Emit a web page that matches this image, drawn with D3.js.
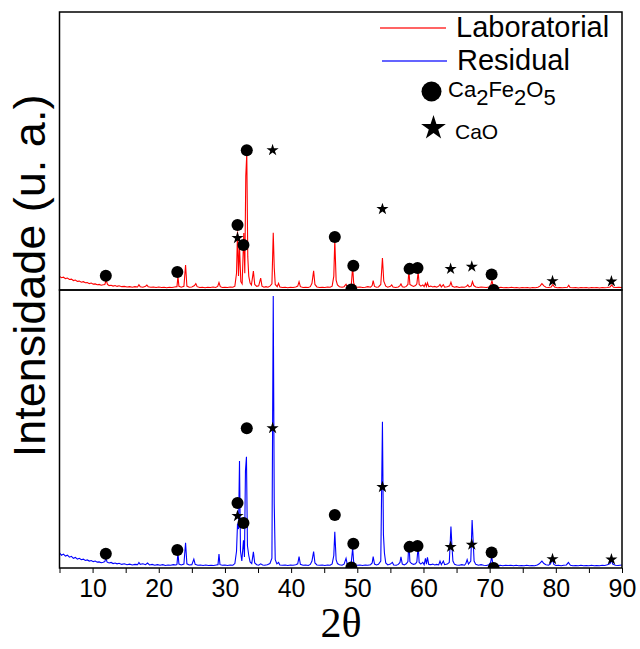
<!DOCTYPE html>
<html>
<head>
<meta charset="utf-8">
<script src="https://cdn.jsdelivr.net/npm/d3@7"></script>
<style>
  body { margin: 0; background: #fff; }
  svg { display: block; }
</style>
</head>
<body>
<svg width="640" height="649"></svg>
<script>
// XRD patterns, intensity in arbitrary units (0-100 = one panel height)
const laboratorial = [
  [5.0,4.9],[5.3,4.4],[5.6,4.6],[5.9,4.1],[6.2,4.3],[6.5,3.8],[6.8,3.9],[7.1,3.4],[7.4,3.6],[7.7,3.1],
  [8.0,3.2],[8.3,2.8],[8.6,3.0],[8.9,2.6],[9.2,2.7],[9.5,2.3],[9.8,2.5],[10.1,2.1],[10.4,2.2],[10.7,1.9],
  [11.0,2.0],[11.3,1.7],[11.6,1.9],[11.85,2.0],[12.05,3.6],[12.25,2.0],[12.5,1.6],[12.8,1.7],[13.1,1.4],
  [13.4,1.6],[13.7,1.3],[14.0,1.5],[14.4,1.2],[14.8,1.3],[15.2,1.1],[15.6,1.2],[16.0,1.0],[16.4,1.2],
  [16.8,1.1],[17.0,1.9],[17.2,1.2],[17.6,1.0],[18.0,1.3],[18.2,1.8],[18.4,1.2],[18.8,1.0],[19.2,1.1],
  [19.6,0.9],[20.0,1.1],[20.4,0.9],[20.8,1.0],[21.2,0.8],[21.6,1.0],[22.0,0.9],[22.4,1.1],[22.75,1.2],
  [22.9,4.8],[23.05,1.3],[23.4,1.0],[23.8,1.3],[24.05,9.0],[24.25,1.4],[24.6,1.0],[25.0,1.1],[25.4,1.6],
  [25.6,2.3],[25.8,1.2],[26.2,0.9],[26.6,1.0],[27.0,0.8],[27.4,1.0],[27.8,0.9],[28.2,1.1],[28.6,0.9],
  [28.9,1.3],[29.1,2.7],[29.3,1.2],[29.6,0.9],[30.0,1.0],[30.4,0.9],[30.8,1.1],[31.2,1.0],[31.5,1.4],
  [31.75,6],[31.9,21],[32.05,5],[32.2,16],[32.4,3],[32.6,2.2],[32.85,20.5],[33.0,6],[33.15,41],[33.3,49],
  [33.45,12],[33.6,5],[33.8,2.5],[34.0,1.8],[34.3,6.8],[34.5,2.0],[34.8,1.3],[35.1,1.5],[35.4,4.3],
  [35.6,1.4],[35.9,1.0],[36.2,1.2],[36.5,1.0],[36.8,1.4],[37.1,2.2],[37.3,20.6],[37.45,8],[37.6,2.0],
  [37.9,1.2],[38.1,2.4],[38.3,1.1],[38.7,0.9],[39.1,1.0],[39.5,0.8],[39.9,1.0],[40.3,0.9],[40.7,1.1],
  [41.0,1.4],[41.2,3.0],[41.4,1.2],[41.8,0.9],[42.2,1.0],[42.6,0.9],[42.9,1.2],[43.15,2.4],[43.4,6.9],
  [43.6,2.0],[43.9,1.1],[44.3,0.9],[44.7,1.0],[45.1,0.9],[45.5,1.1],[45.9,1.0],[46.2,1.4],[46.45,5],
  [46.6,18],[46.8,3.5],[47.0,1.8],[47.3,1.2],[47.7,1.0],[48.0,1.2],[48.3,2.1],[48.5,1.1],[48.8,1.3],
  [49.1,2.0],[49.3,8.4],[49.45,2.5],[49.7,1.3],[50.0,1.0],[50.4,1.1],[50.8,0.9],[51.2,1.0],[51.6,1.2],
  [52.0,1.0],[52.25,1.6],[52.4,3.4],[52.6,1.3],[52.9,1.0],[53.2,1.1],[53.55,2.0],[53.8,11.5],[54.0,3.2],
  [54.3,1.4],[54.6,1.0],[55.0,1.3],[55.2,1.8],[55.4,1.1],[55.8,0.9],[56.2,1.1],[56.45,1.6],[56.6,2.2],
  [56.8,1.2],[57.1,1.0],[57.4,1.3],[57.65,2.0],[57.8,7.2],[57.95,2.0],[58.2,1.6],[58.5,1.3],[58.8,1.6],
  [59.0,2.2],[59.2,6.5],[59.35,2.0],[59.6,1.4],[59.9,1.8],[60.1,1.2],[60.3,2.4],[60.45,1.3],[60.6,2.6],
  [60.8,1.2],[61.1,1.4],[61.4,1.1],[61.7,1.3],[62.0,1.0],[62.3,1.4],[62.5,2.0],[62.7,1.1],[63.0,1.9],
  [63.2,1.0],[63.6,1.2],[63.95,1.5],[64.15,2.8],[64.35,1.3],[64.7,1.0],[65.0,1.2],[65.4,0.9],[65.8,1.1],
  [66.2,1.0],[66.5,1.3],[66.7,1.8],[66.9,1.1],[67.2,1.4],[67.4,3.0],[67.6,1.6],[67.9,1.1],[68.3,0.9],
  [68.7,1.1],[69.1,1.0],[69.5,0.9],[69.9,1.1],[70.15,1.6],[70.35,3.4],[70.55,1.2],[70.9,1.0],[71.3,0.8],
  [71.7,1.0],[72.1,0.8],[72.5,0.9],[72.9,0.8],[73.3,1.0],[73.7,0.8],[74.1,0.9],[74.5,0.7],[74.9,0.9],
  [75.3,0.8],[75.7,0.9],[76.1,0.7],[76.5,0.9],[76.9,0.8],[77.3,1.0],[77.6,1.4],[77.9,2.3],[78.2,1.5],
  [78.5,1.0],[78.9,0.9],[79.3,1.1],[79.55,2.0],[79.8,1.1],[80.2,0.8],[80.6,0.9],[81.0,0.8],[81.4,0.9],
  [81.75,1.0],[81.95,1.7],[82.15,0.9],[82.6,0.8],[83.0,0.9],[83.4,0.7],[83.8,0.9],[84.2,0.8],[84.6,0.9],
  [85.0,0.7],[85.4,0.9],[85.8,0.8],[86.2,0.9],[86.6,0.7],[87.0,0.9],[87.4,0.8],[87.8,0.9],[88.2,1.1],
  [88.45,1.8],[88.7,1.0],[89.1,0.9],[89.5,1.0],[90.0,0.9]
];

const residual = [
  [5.0,5.4],[5.3,4.6],[5.6,5.0],[5.9,4.3],[6.2,4.6],[6.5,3.9],[6.8,4.2],[7.1,3.5],[7.4,3.8],[7.7,3.2],
  [8.0,3.5],[8.3,3.0],[8.6,3.2],[8.9,2.7],[9.2,2.9],[9.5,2.5],[9.8,2.7],[10.1,2.3],[10.4,2.5],[10.7,2.1],
  [11.0,2.2],[11.3,1.9],[11.6,2.1],[11.85,2.3],[12.0,3.6],[12.2,2.1],[12.5,1.8],[12.8,2.0],[13.1,1.6],
  [13.4,1.8],[13.7,1.5],[14.0,1.7],[14.4,1.3],[14.8,1.5],[15.2,1.2],[15.6,1.4],[16.0,1.1],[16.4,1.3],
  [16.8,1.2],[17.0,2.0],[17.2,1.3],[17.6,1.5],[18.0,1.2],[18.3,1.8],[18.6,1.1],[19.0,1.3],[19.4,1.0],
  [19.8,1.2],[20.2,1.0],[20.6,1.2],[21.0,0.9],[21.4,1.1],[21.8,1.0],[22.2,1.2],[22.6,1.1],[22.75,1.3],
  [22.9,5.4],[23.05,1.4],[23.4,1.1],[23.8,1.4],[24.05,9.1],[24.25,1.5],[24.6,1.1],[25.0,1.2],[25.3,3.2],
  [25.5,1.3],[25.9,1.0],[26.3,1.1],[26.7,0.9],[27.1,1.1],[27.5,0.9],[27.9,1.0],[28.3,0.9],[28.7,1.1],
  [28.95,1.2],[29.1,5.0],[29.25,1.2],[29.6,1.0],[30.0,1.1],[30.4,0.9],[30.8,1.1],[31.2,1.0],[31.5,1.6],
  [31.75,6],[31.9,16],[32.05,14],[32.2,38.5],[32.35,6],[32.55,2.5],[32.8,10],[32.95,4],[33.1,35],
  [33.25,40],[33.4,8],[33.6,4.5],[33.8,2.2],[34.05,1.6],[34.3,5.8],[34.5,1.8],[34.8,1.2],[35.1,1.0],
  [35.4,1.5],[35.7,1.1],[36.0,1.0],[36.4,1.2],[36.8,1.6],[37.1,3.5],[37.3,97.8],[37.45,23],[37.6,3],
  [37.85,1.5],[38.1,2.0],[38.3,1.1],[38.7,1.0],[39.1,1.1],[39.5,0.9],[39.9,1.1],[40.3,1.0],[40.7,1.2],
  [41.0,1.5],[41.2,4.1],[41.4,1.3],[41.8,1.0],[42.2,1.1],[42.6,0.9],[42.9,1.3],[43.15,2.5],[43.4,5.9],
  [43.6,1.8],[43.9,1.1],[44.3,1.0],[44.7,1.1],[45.1,0.9],[45.5,1.1],[45.9,1.0],[46.2,1.5],[46.45,4.5],
  [46.6,13],[46.8,3.0],[47.0,1.6],[47.3,1.2],[47.7,1.0],[48.0,1.4],[48.3,3.5],[48.5,1.2],[48.8,1.5],
  [49.1,2.2],[49.3,7.2],[49.45,2.2],[49.7,1.2],[50.0,1.0],[50.4,1.1],[50.8,0.9],[51.2,1.1],[51.6,1.0],
  [52.0,1.2],[52.25,1.8],[52.4,4.1],[52.6,1.4],[52.9,1.1],[53.2,1.3],[53.55,2.5],[53.8,52.6],[53.95,12],
  [54.1,5.4],[54.3,1.8],[54.6,1.1],[55.0,1.4],[55.3,2.0],[55.5,1.1],[55.9,1.0],[56.2,1.3],[56.45,2.0],
  [56.6,4.0],[56.8,1.4],[57.1,1.1],[57.4,1.5],[57.65,2.3],[57.8,9.5],[57.95,2.2],[58.2,1.6],[58.5,1.3],
  [58.8,1.5],[59.0,2.2],[59.2,8.0],[59.35,2.0],[59.6,1.4],[59.9,2.0],[60.1,1.2],[60.3,3.5],[60.45,1.4],
  [60.6,3.8],[60.8,1.3],[61.1,1.2],[61.4,1.4],[61.7,1.1],[62.0,1.3],[62.3,1.1],[62.5,2.5],[62.7,1.2],
  [63.0,2.5],[63.2,1.2],[63.6,1.4],[63.9,2.0],[64.15,14.9],[64.3,8],[64.45,2.5],[64.7,1.3],[65.0,1.1],
  [65.4,1.0],[65.8,1.2],[66.2,1.0],[66.4,1.6],[66.6,3.0],[66.8,1.4],[67.15,2.5],[67.35,17.3],[67.5,10],
  [67.65,2.5],[67.9,1.3],[68.3,1.0],[68.7,1.2],[69.1,1.0],[69.5,0.9],[69.9,1.2],[70.15,2.0],[70.3,4.0],
  [70.5,1.5],[70.8,1.1],[71.2,0.9],[71.6,1.0],[72.0,0.8],[72.4,1.0],[72.8,0.9],[73.2,1.0],[73.6,0.8],
  [74.0,1.0],[74.4,0.8],[74.8,0.9],[75.2,0.8],[75.6,1.0],[76.0,0.8],[76.4,0.9],[76.8,0.8],[77.2,1.1],
  [77.5,1.5],[77.9,2.5],[78.2,1.6],[78.5,1.2],[78.9,1.0],[79.2,1.5],[79.45,3.6],[79.7,1.3],[80.0,0.9],
  [80.4,1.0],[80.8,0.8],[81.2,1.0],[81.6,1.1],[81.9,2.0],[82.2,1.0],[82.6,0.8],[83.0,0.9],[83.4,0.8],
  [83.8,1.0],[84.2,0.8],[84.6,0.9],[85.0,0.8],[85.4,1.0],[85.8,0.8],[86.2,0.9],[86.6,0.8],[87.0,1.0],
  [87.4,0.9],[87.8,1.2],[88.2,1.6],[88.4,2.9],[88.6,1.4],[89.0,1.0],[89.4,0.9],[89.7,1.0],[90.0,1.1]
];

// phase markers [2theta, height], same set in both panels
const ca2fe2o5 = [
  [12.0,5.1],[22.8,6.5],[31.9,23.4],[32.8,16.2],[33.3,50.3],[46.6,19.1],[49.4,8.7],[49.1,0.2],
  [57.9,7.6],[59.1,7.9],[70.3,5.6],[70.6,0.0]
];
const cao = [[31.9,18.7],[37.2,50.3],[53.8,29.1],[64.1,7.6],[67.3,8.4],[79.5,3.2],[88.4,3.1]];

const xTicks = [5,10,15,20,25,30,35,40,45,50,55,60,65,70,75,80,85,90];
const xLabels = [10,20,30,40,50,60,70,80,90];

const svg = d3.select("svg");
const sans = "'Liberation Sans', Arial, sans-serif";

const x = d3.scaleLinear().domain([5, 90]).range([59.5, 622]);
const panels = [
  { id: "lab", data: laboratorial, color: "#ff0000", y: d3.scaleLinear().domain([0, 100]).range([290, 12]) },
  { id: "res", data: residual, color: "#0000ff", y: d3.scaleLinear().domain([0, 100]).range([568, 290]) }
];

const defs = svg.append("defs");

panels.forEach((p) => {
  const [y0, y1] = p.y.range();
  defs.append("clipPath").attr("id", `clip-${p.id}`)
    .append("rect")
    .attr("x", x.range()[0]).attr("y", y1)
    .attr("width", x.range()[1] - x.range()[0]).attr("height", y0 - y1);

  const g = svg.append("g").attr("clip-path", `url(#clip-${p.id})`);

  const line = d3.line().x((d) => x(d[0])).y((d) => p.y(d[1]));
  g.append("path")
    .datum(p.data)
    .attr("fill", "none")
    .attr("stroke", p.color)
    .attr("stroke-width", 1.1)
    .attr("d", line);

  g.selectAll("circle.m")
    .data(ca2fe2o5)
    .enter()
    .append("circle")
    .attr("class", "m")
    .attr("cx", (d) => x(d[0]))
    .attr("cy", (d) => p.y(d[1]))
    .attr("r", 6)
    .attr("fill", "#000");

  g.selectAll("path.star")
    .data(cao)
    .enter()
    .append("path")
    .attr("class", "star")
    .attr("transform", (d) => `translate(${x(d[0])},${p.y(d[1])})`)
    .attr("d", d3.symbol(d3.symbolStar, 46))
    .attr("fill", "#000");

  svg.append("rect")
    .attr("x", x.range()[0]).attr("y", y1)
    .attr("width", x.range()[1] - x.range()[0]).attr("height", y0 - y1)
    .attr("fill", "none")
    .attr("stroke", "#000")
    .attr("stroke-width", 1.5);
});

// bottom axis
const axis = svg.append("g")
  .attr("transform", "translate(0,568)")
  .call(d3.axisBottom(x)
    .tickValues(xTicks)
    .tickSize(5)
    .tickPadding(6)
    .tickFormat((d) => (xLabels.includes(d) ? d : "")));
axis.select(".domain").remove();
axis.selectAll("line").attr("stroke", "#000").attr("stroke-width", 1);
axis.selectAll("text")
  .attr("font-family", sans)
  .attr("font-size", 25)
  .attr("fill", "#000");

// axis titles
svg.append("text")
  .attr("x", 341).attr("y", 637)
  .attr("text-anchor", "middle")
  .attr("font-family", "'Liberation Serif', 'Times New Roman', serif")
  .attr("font-size", 42)
  .text("2θ");

svg.append("text")
  .attr("transform", "translate(45,276) rotate(-90)")
  .attr("text-anchor", "middle")
  .attr("font-family", sans)
  .attr("font-size", 45)
  .text("Intensidade (u. a.)");

// legend
const legend = svg.append("g");
legend.append("line").attr("x1", 380).attr("x2", 446).attr("y1", 28).attr("y2", 28)
  .attr("stroke", "#ff3030").attr("stroke-width", 1.5);
legend.append("text").attr("x", 456).attr("y", 37).attr("font-family", sans).attr("font-size", 29)
  .text("Laboratorial");
legend.append("line").attr("x1", 382).attr("x2", 447).attr("y1", 61).attr("y2", 61)
  .attr("stroke", "#3030ff").attr("stroke-width", 1.5);
legend.append("text").attr("x", 457).attr("y", 70).attr("font-family", sans).attr("font-size", 29)
  .text("Residual");

legend.append("circle").attr("cx", 431.5).attr("cy", 91.5).attr("r", 10).attr("fill", "#000");
const formula = legend.append("text").attr("x", 448).attr("y", 97).attr("font-family", sans).attr("font-size", 22);
[["Ca", 0], ["2", 8], ["Fe", -8], ["2", 8], ["O", -8], ["5", 8]].forEach(([t, dy]) => {
  formula.append("tspan").attr("dy", dy).text(t);
});

legend.append("path")
  .attr("transform", "translate(433.5,128)")
  .attr("d", d3.symbol(d3.symbolStar, 190))
  .attr("fill", "#000");
legend.append("text").attr("x", 455).attr("y", 139).attr("font-family", sans).attr("font-size", 21)
  .text("CaO");
</script>
</body>
</html>
